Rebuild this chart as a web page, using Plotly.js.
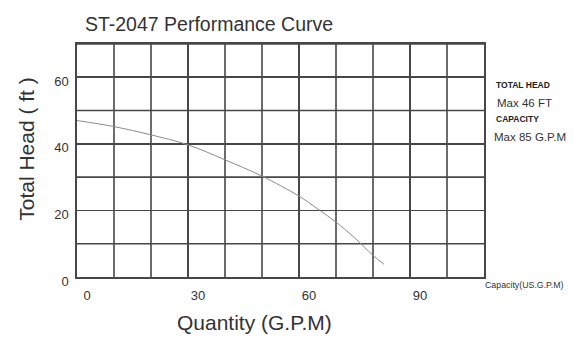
<!DOCTYPE html>
<html>
<head>
<meta charset="utf-8">
<script src="https://cdn.plot.ly/plotly-3.0.1.min.js"></script>
<style>html,body{margin:0;padding:0;background:#fff;}#chart{width:574px;height:352px;}</style>
</head>
<body>
<div id="chart"></div>
<script>
var flowGPM = [0, 10, 20, 30, 40, 50, 60, 65, 70, 75, 80, 83];
var headFt  = [47, 45.2, 42.7, 39.7, 35.2, 30.3, 24.3, 20.5, 16.5, 11.8, 6.5, 3.8];
var xTickVals = [0, 30, 60, 90];
var xTickText = ['0', '30', '60', '90'];
var yTickVals = [0, 20, 40, 60];
var yTickText = ['0', '20', '40', '60'];
var noteLines = ['TOTAL HEAD', 'Max 46 FT', 'CAPACITY', 'Max 85 G.P.M'];
var titleText = 'ST-2047 Performance Curve';
var xTitleText = 'Quantity (G.P.M)';
var yTitleText = 'Total Head ( ft )';
var unitText = 'Capacity(US.G.P.M)';

var font = 'Arial, Liberation Sans, sans-serif';
var gridColor = '#474747';

var trace = {
  x: flowGPM, y: headFt, type: 'scatter', mode: 'lines',
  line: {color: '#8c8c8c', width: 1, shape: 'spline'},
  hoverinfo: 'skip'
};

var layout = {
  width: 574, height: 352,
  margin: {l: 77, r: 90, t: 44, b: 75},
  paper_bgcolor: '#fff', plot_bgcolor: '#fff',
  showlegend: false,
  title: {text: titleText, font: {family: font, size: 19.5, color: '#333'},
          x: 0.148, xanchor: 'left', y: 0.932, yanchor: 'middle'},
  xaxis: {
    range: [0, 110], dtick: 10, tick0: 0,
    showgrid: true, gridcolor: gridColor, gridwidth: 1.6,
    showline: true, linecolor: gridColor, linewidth: 1.6, mirror: true,
    zeroline: false, ticks: '',
    tickmode: 'array', tickvals: xTickVals, ticktext: xTickText,
    ticklabelshift: 10, ticklabelstandoff: 6,
    tickfont: {family: font, size: 13, color: '#333'},
    title: {text: ''}
  },
  yaxis: {
    range: [0, 70],
    showgrid: true, gridcolor: gridColor, gridwidth: 1.6,
    showline: true, linecolor: gridColor, linewidth: 1.6, mirror: true,
    zeroline: false, ticks: '',
    tickmode: 'array', tickvals: yTickVals, ticktext: yTickText,
    ticklabelshift: 4, ticklabelstandoff: 4,
    tickfont: {family: font, size: 13, color: '#333'},
    title: {text: ''}
  },
  shapes: [10,30,50,70].map(function(v){
    return {type:'line', xref:'paper', x0:0, x1:1, yref:'y', y0:v, y1:v,
            line:{color:gridColor, width:1.6}, layer:'below'};
  }).concat([10,20,40,50,70,80,100].map(function(v){
    return {type:'line', yref:'paper', y0:0, y1:1, xref:'x', x0:v, x1:v,
            line:{color:gridColor, width:1.6}, layer:'below'};
  })),
  annotations: [
    {text: xTitleText, xref:'paper', yref:'paper', x:0.436, y:-0.197, xanchor:'center', yanchor:'middle', showarrow:false, font:{family:font, size:21, color:'#333'}},
    {text: yTitleText, xref:'paper', yref:'paper', x:-0.123, y:0.55, xanchor:'center', yanchor:'middle', textangle:-90, showarrow:false, font:{family:font, size:21, color:'#333'}},
    {text: '<b>' + noteLines[0] + '</b>', xref:'paper', yref:'paper', x:1.025, y:0.822, xanchor:'left', yanchor:'middle', showarrow:false, font:{family:font, size:8.5, color:'#222'}},
    {text: noteLines[1], xref:'paper', yref:'paper', x:1.027, y:0.745, xanchor:'left', yanchor:'middle', showarrow:false, font:{family:font, size:11.5, color:'#333'}},
    {text: '<b>' + noteLines[2] + '</b>', xref:'paper', yref:'paper', x:1.025, y:0.68, xanchor:'left', yanchor:'middle', showarrow:false, font:{family:font, size:8.5, color:'#222'}},
    {text: noteLines[3], xref:'paper', yref:'paper', x:1.02, y:0.6, xanchor:'left', yanchor:'middle', showarrow:false, font:{family:font, size:11.5, color:'#333'}},
    {text: unitText, xref:'paper', yref:'paper', x:0.998, y:-0.035, xanchor:'left', yanchor:'middle', showarrow:false, font:{family:font, size:8.8, color:'#333'}}
  ]
};

Plotly.newPlot('chart', [trace], layout, {staticPlot: true, displayModeBar: false});
</script>
</body>
</html>
